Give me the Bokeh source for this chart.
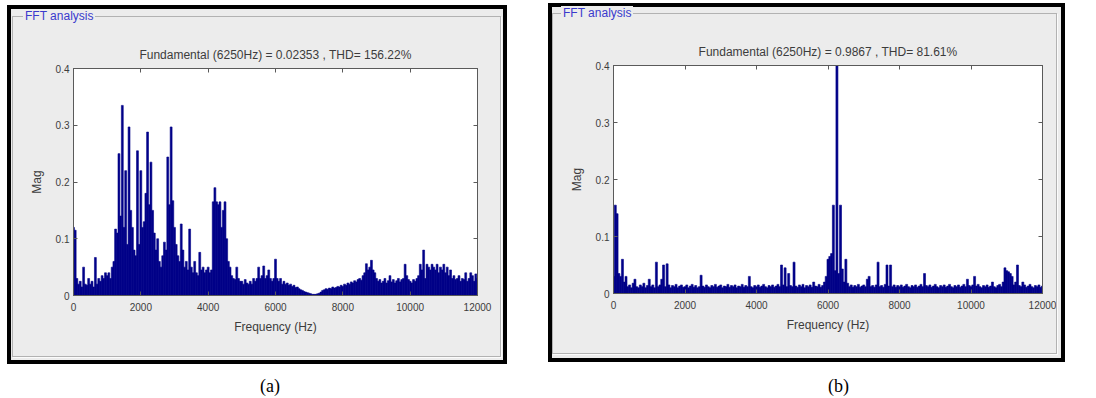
from bokeh.plotting import figure
from bokeh.models import (FixedTicker, LinearAxis, Div, Range1d,
                          CustomLabelingPolicy)
from bokeh.layouts import row, column
from bokeh.embed import file_html
from bokeh.resources import INLINE

# ---------------- data ----------------
freq = list(range(0, 12001, 50))  # harmonic bins (Hz)

mag_a = [
    # 0 - 950
    0.12, 0.115, 0.03, 0.02, 0.025, 0.015, 0.05, 0.02, 0.018, 0.03,
    0.02, 0.025, 0.015, 0.067, 0.02, 0.03, 0.025, 0.035, 0.03, 0.04,
    # 1000 - 1950
    0.035, 0.04, 0.03, 0.05, 0.06, 0.117, 0.11, 0.25, 0.14, 0.335,
    0.12, 0.22, 0.09, 0.297, 0.15, 0.12, 0.08, 0.07, 0.255, 0.09,
    # 2000 - 2950
    0.22, 0.12, 0.13, 0.18, 0.288, 0.16, 0.235, 0.15, 0.11, 0.08,
    0.10, 0.06, 0.05, 0.07, 0.094, 0.08, 0.244, 0.16, 0.297, 0.167,
    # 3000 - 3950
    0.12, 0.09, 0.07, 0.06, 0.126, 0.08, 0.05, 0.06, 0.045, 0.117,
    0.05, 0.04, 0.06, 0.04, 0.035, 0.076, 0.045, 0.05, 0.04, 0.045,
    # 4000 - 4950
    0.05, 0.04, 0.045, 0.165, 0.19, 0.165, 0.16, 0.165, 0.12, 0.15,
    0.165, 0.10, 0.06, 0.05, 0.035, 0.03, 0.028, 0.05, 0.03, 0.025,
    # 5000 - 5950
    0.025, 0.02, 0.028, 0.022, 0.02, 0.025, 0.02, 0.03, 0.025, 0.03,
    0.05, 0.03, 0.035, 0.052, 0.03, 0.035, 0.045, 0.03, 0.025, 0.03,
    # 6000 - 6950
    0.064, 0.03, 0.025, 0.03, 0.02, 0.025, 0.02, 0.022, 0.018, 0.02,
    0.016, 0.018, 0.014, 0.015, 0.012, 0.01, 0.009, 0.007, 0.006, 0.005,
    # 7000 - 7950
    0.004, 0.003, 0.002, 0.002, 0.002, 0.003, 0.004, 0.006, 0.009, 0.01,
    0.012, 0.011, 0.013, 0.012, 0.015, 0.013, 0.014, 0.016, 0.015, 0.018,
    # 8000 - 8950
    0.016, 0.02, 0.018, 0.022, 0.02, 0.024, 0.022, 0.026, 0.024, 0.028,
    0.03, 0.027, 0.035, 0.04, 0.056, 0.045, 0.05, 0.062, 0.045, 0.04,
    # 9000 - 9950
    0.03, 0.025, 0.028, 0.022, 0.025, 0.03, 0.022, 0.026, 0.035, 0.024,
    0.028, 0.022, 0.026, 0.03, 0.024, 0.028, 0.03, 0.055, 0.035, 0.028,
    # 10000 - 10950
    0.025, 0.022, 0.028, 0.025, 0.03, 0.035, 0.055, 0.045, 0.08, 0.03,
    0.055, 0.05, 0.045, 0.055, 0.05, 0.045, 0.055, 0.04, 0.05, 0.045,
    # 11000 - 11950
    0.055, 0.04, 0.05, 0.035, 0.045, 0.03, 0.035, 0.028, 0.03, 0.035,
    0.025, 0.03, 0.028, 0.04, 0.025, 0.03, 0.04, 0.035, 0.025, 0.038,
    # 12000
    0.03,
]

mag_b = [
    # 0 - 950
    0.03, 0.155, 0.14, 0.035, 0.03, 0.06, 0.02, 0.03, 0.012, 0.015,
    0.01, 0.018, 0.025, 0.012, 0.01, 0.015, 0.012, 0.018, 0.01, 0.014,
    # 1000 - 1950
    0.025, 0.012, 0.015, 0.01, 0.055, 0.012, 0.015, 0.025, 0.05, 0.012,
    0.052, 0.015, 0.01, 0.014, 0.012, 0.016, 0.01, 0.013, 0.015, 0.011,
    # 2000 - 2950
    0.012, 0.015, 0.01, 0.013, 0.016, 0.011, 0.014, 0.01, 0.012, 0.032,
    0.013, 0.011, 0.015, 0.012, 0.01, 0.014, 0.012, 0.016, 0.011, 0.013,
    # 3000 - 3950
    0.015, 0.01, 0.013, 0.012, 0.016, 0.011, 0.014, 0.012, 0.015, 0.01,
    0.013, 0.012, 0.016, 0.011, 0.014, 0.012, 0.03, 0.012, 0.01, 0.014,
    # 4000 - 4950
    0.012, 0.015, 0.011, 0.013, 0.016, 0.012, 0.01, 0.014, 0.012, 0.015,
    0.011, 0.013, 0.016, 0.012, 0.05, 0.015, 0.045, 0.012, 0.035, 0.014,
    # 5000 - 5950
    0.012, 0.055, 0.013, 0.011, 0.015, 0.012, 0.016, 0.01, 0.014, 0.012,
    0.015, 0.011, 0.02, 0.013, 0.012, 0.016, 0.011, 0.014, 0.02, 0.03,
    # 6000 - 6950
    0.06, 0.065, 0.07, 0.155, 0.04, 0.9867, 0.035, 0.155, 0.043, 0.02,
    0.06, 0.018, 0.012, 0.015, 0.011, 0.014, 0.012, 0.016, 0.011, 0.013,
    # 7000 - 7950
    0.015, 0.012, 0.025, 0.03, 0.012, 0.014, 0.011, 0.015, 0.055, 0.012,
    0.014, 0.011, 0.016, 0.05, 0.013, 0.05, 0.012, 0.015, 0.011, 0.014,
    # 8000 - 8950
    0.012, 0.015, 0.011, 0.013, 0.016, 0.012, 0.01, 0.014, 0.012, 0.015,
    0.011, 0.013, 0.016, 0.012, 0.035, 0.014, 0.012, 0.015, 0.011, 0.013,
    # 9000 - 9950
    0.016, 0.012, 0.01, 0.014, 0.012, 0.015, 0.011, 0.013, 0.016, 0.012,
    0.01, 0.014, 0.012, 0.015, 0.011, 0.013, 0.016, 0.012, 0.025, 0.014,
    # 10000 - 10950
    0.012, 0.015, 0.03, 0.013, 0.016, 0.012, 0.01, 0.014, 0.012, 0.015,
    0.011, 0.013, 0.02, 0.012, 0.01, 0.014, 0.016, 0.012, 0.02, 0.045,
    # 11000 - 11950
    0.04, 0.038, 0.035, 0.03, 0.015, 0.02, 0.05, 0.014, 0.012, 0.02,
    0.015, 0.011, 0.013, 0.016, 0.012, 0.01, 0.014, 0.012, 0.015, 0.011,
    # 12000
    0.013,
]

x_ticks = [0, 2000, 4000, 6000, 8000, 10000, 12000]
x_tick_labels = ["0", "2000", "4000", "6000", "8000", "10000", "12000"]
y_ticks = [0, 0.1, 0.2, 0.3, 0.4]
y_tick_labels = ["0", "0.1", "0.2", "0.3", "0.4"]

title_a = "Fundamental (6250Hz) = 0.02353 , THD= 156.22%"
title_b = "Fundamental (6250Hz) = 0.9867 , THD= 81.61%"
group_title = "FFT analysis"
captions = ["(a)", "(b)"]
x_label = "Frequency (Hz)"
y_label = "Mag"

assert len(mag_a) == len(freq) and len(mag_b) == len(freq)

PANEL_BG = "#ececec"
TEXT_COL = "#3c3c3c"
AXIS_COL = "#5a5a5a"
BAR_COL = "#000088"
FONT = "Liberation Sans"

NO_LABELS = CustomLabelingPolicy(code="for (const i of [...indices]) indices.unset(i);")


def make_panel(mag, title, w, h, mb_left, mb_right, mb_top, mb_bottom):
    p = figure(width=w, height=h,
               min_border_left=mb_left, min_border_right=mb_right,
               min_border_top=mb_top, min_border_bottom=mb_bottom,
               x_range=Range1d(0, 12000), y_range=Range1d(0, 0.4),
               output_backend="svg", toolbar_location=None,
               border_fill_color=PANEL_BG, background_fill_color="white",
               outline_line_color=AXIS_COL, outline_line_width=1)
    p.vbar(x=freq, top=mag, bottom=0, width=56, fill_color=BAR_COL,
           line_color=BAR_COL, line_width=0.6)

    p.xgrid.visible = False
    p.ygrid.visible = False

    p.xaxis.ticker = FixedTicker(ticks=x_ticks)
    p.xaxis.major_label_overrides = {t: l for t, l in zip(x_ticks, x_tick_labels)}
    p.yaxis.ticker = FixedTicker(ticks=y_ticks)
    p.yaxis.major_label_overrides = {t: l for t, l in zip(y_ticks, y_tick_labels)}
    p.xaxis.axis_label = x_label
    p.yaxis.axis_label = y_label
    for ax in (p.xaxis[0], p.yaxis[0]):
        ax.major_tick_in = 4
        ax.major_tick_out = 0
        ax.minor_tick_line_color = None
        ax.axis_line_color = AXIS_COL
        ax.major_tick_line_color = AXIS_COL
        ax.major_label_text_font = FONT
        ax.major_label_text_font_size = "10px"
        ax.major_label_text_color = TEXT_COL
        ax.axis_label_text_font = FONT
        ax.axis_label_text_font_size = "12px"
        ax.axis_label_text_font_style = "normal"
        ax.axis_label_text_color = TEXT_COL
    p.xaxis.major_label_standoff = 7
    p.xaxis.axis_label_standoff = 6
    p.yaxis.major_label_standoff = 4
    p.yaxis.axis_label_standoff = 9

    # top / right axes: inward ticks only
    for ticks, loc in ((y_ticks, "right"), (x_ticks, "above")):
        ax = LinearAxis(ticker=FixedTicker(ticks=ticks), major_label_text_font_size="0px",
                        major_label_policy=NO_LABELS,
                        major_label_standoff=0, major_tick_in=4, major_tick_out=0,
                        minor_tick_line_color=None, axis_line_color=AXIS_COL,
                        major_tick_line_color=AXIS_COL)
        p.add_layout(ax, loc)

    p.title.text = title
    p.title.align = "center"
    p.title.text_font = FONT
    p.title.text_font_size = "12px"
    p.title.text_font_style = "normal"
    p.title.text_color = TEXT_COL
    p.title.standoff = 14
    return p


# canvas includes the 4 px black frame that is painted over it
fa = make_panel(mag_a, title_a, 500, 359, 66, 30, 63, 69)
fb = make_panel(mag_b, title_b, 517, 359, 65, 23, 62, 69)

fa.margin = (5, 0, 0, 7)
fb.margin = (3, 0, 0, 41)


def overlay(caption, cap_shift, frame, box, legend):
    # black frame, group box and its legend, placed relative to the caption div
    fl, ft, fw, fh = frame
    bl, bt, bw, bh = box
    ll, lt = legend
    return (
        f'<div style="position:absolute;left:{fl}px;top:{ft}px;width:{fw}px;height:{fh}px;'
        f'box-sizing:border-box;border:4px solid #000;pointer-events:none;"></div>'
        f'<div style="position:absolute;left:{bl}px;top:{bt}px;width:{bw}px;height:{bh}px;'
        f'border:1px solid #b2b2b2;box-shadow:1px 1px 0 #fbfbfb;pointer-events:none;"></div>'
        f'<div style="position:absolute;left:{ll}px;top:{lt}px;background:{PANEL_BG};'
        f'color:#3a3acc;font-family:{FONT};font-size:12px;line-height:14px;padding:0 2px;'
        f'white-space:nowrap;">{group_title}</div>'
        f'<span style="position:relative;left:{cap_shift}px">{caption}</span>'
    )


cap_style = {"text-align": "center", "font-family": "Liberation Serif",
             "font-size": "18px", "color": "#000000", "position": "relative",
             "overflow": "visible"}
div_a = Div(text=overlay(captions[0], 13, (0, -369, 500, 359), (5, -358, 489, 341), (16, -365)),
            width=500, height=22, styles=cap_style, margin=(10, 0, 0, 7))
div_b = Div(text=overlay(captions[1], 32, (0, -371, 517, 359), (4, -361, 505, 341), (13, -368)),
            width=517, height=22, styles=cap_style, margin=(12, 0, 0, 41))

layout = row(column(fa, div_a), column(fb, div_b))

open("out.html", "w").write(file_html(layout, INLINE))
